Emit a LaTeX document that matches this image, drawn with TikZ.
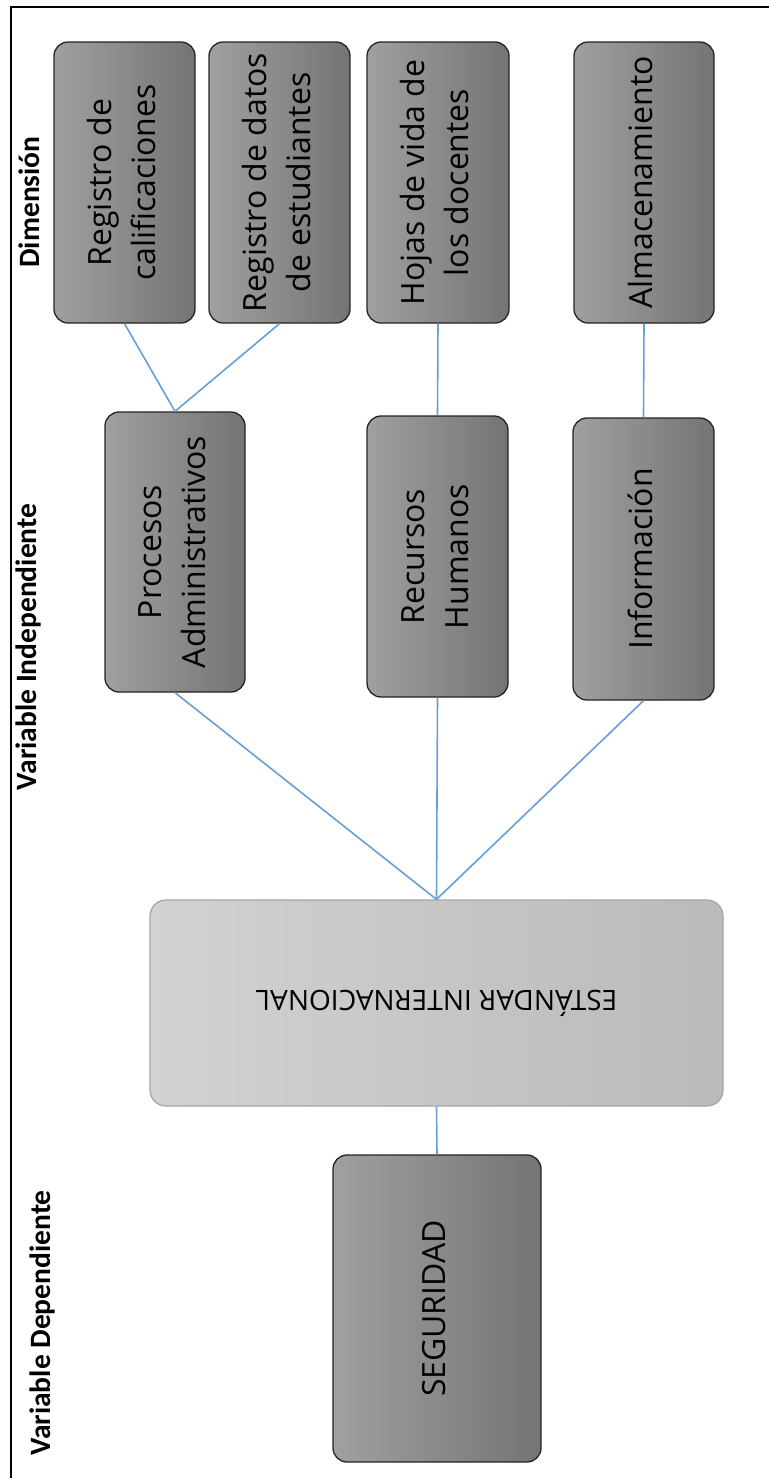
\documentclass[tikz,border=0pt]{standalone}
\usepackage{fontspec}
\setmainfont{Open Sans}
\newfontfamily\labfont{Carlito}
\definecolor{conn}{RGB}{105,158,212}
\definecolor{boxL}{RGB}{160,160,160}
\definecolor{boxR}{RGB}{116,116,116}
\definecolor{boxD}{RGB}{35,35,35}
\definecolor{estL}{RGB}{210,210,210}
\definecolor{estR}{RGB}{186,186,186}
\definecolor{estD}{RGB}{165,165,165}
\newcommand{\vtext}[1]{\rotatebox{90}{\begin{tabular}{@{}c@{}}#1\end{tabular}}}
\begin{document}
\begin{tikzpicture}[x=1pt,y=-1pt,
  darkbox/.style={draw=boxD, line width=1.3pt, rounded corners=14pt,
    left color=boxL, right color=boxR, inner sep=0pt, text=black,
    font=\fontsize{32}{44}\selectfont},
  estbox/.style={draw=estD, line width=1.2pt, rounded corners=16pt,
    left color=estL, right color=estR, inner sep=0pt, text=black,
    font=\fontsize{28}{36}\selectfont},
  conn/.style={draw=conn, line width=1.6pt},
  lab/.style={font=\labfont\bfseries\fontsize{29.5}{36}\selectfont, rotate=90, inner sep=0pt, text=black}]
\useasboundingbox (0,0) rectangle (769,1478);
\draw[line width=2.5pt] (11,1478) -- (11,7) -- (769,7);

% labels
\node[lab] (ldim) at (29,202) {Dimensión};
\node[lab] (lind) at (28,647) {Variable Independiente};
\node[lab] (ldep) at (42,1323) {Variable Dependiente};

% dimension boxes
\node[darkbox, minimum width=141pt, minimum height=281pt] (r1) at (124.5,182.5) {\vtext{Registro de\\calificaciones}};
\node[darkbox, minimum width=141pt, minimum height=281pt] (r2) at (279.5,182.5) {\vtext{Registro de datos\\de estudiantes}};
\node[darkbox, minimum width=142pt, minimum height=281pt] (r3) at (438,182.5) {\vtext{Hojas de vida de\\los docentes}};
\node[darkbox, minimum width=140pt, minimum height=281pt] (r4) at (644,182.5) {\vtext{Almacenamiento}};

% independent variable boxes
\node[darkbox, minimum width=140pt, minimum height=280pt] (p1) at (175,552) {\vtext{Procesos\\Administrativos}};
\node[darkbox, minimum width=141pt, minimum height=281pt] (p2) at (437.5,556.5) {\vtext{Recursos\\Humanos}};
\node[darkbox, minimum width=141pt, minimum height=282pt] (p3) at (643.5,559) {\vtext{Información}};

% standard
\node[estbox, minimum width=573pt, minimum height=206pt] (est) at (436.5,1003) {\rotatebox{180}{ESTÁNDAR INTERNACIONAL}};

% dependent
\node[darkbox, minimum width=208pt, minimum height=307pt] (seg) at (437,1308.5) {\vtext{SEGURIDAD}};

% connectors
\draw[conn] (r1.south) -- (p1.north);
\draw[conn] (r2.south) -- (p1.north);
\draw[conn] (r3.south) -- (p2.north);
\draw[conn] (r4.south) -- (p3.north);
\draw[conn] (p1.south) -- (est.north);
\draw[conn] (p2.south) -- (est.north);
\draw[conn] (p3.south) -- (est.north);
\draw[conn] (est.south) -- (seg.north);
\end{tikzpicture}
\end{document}
